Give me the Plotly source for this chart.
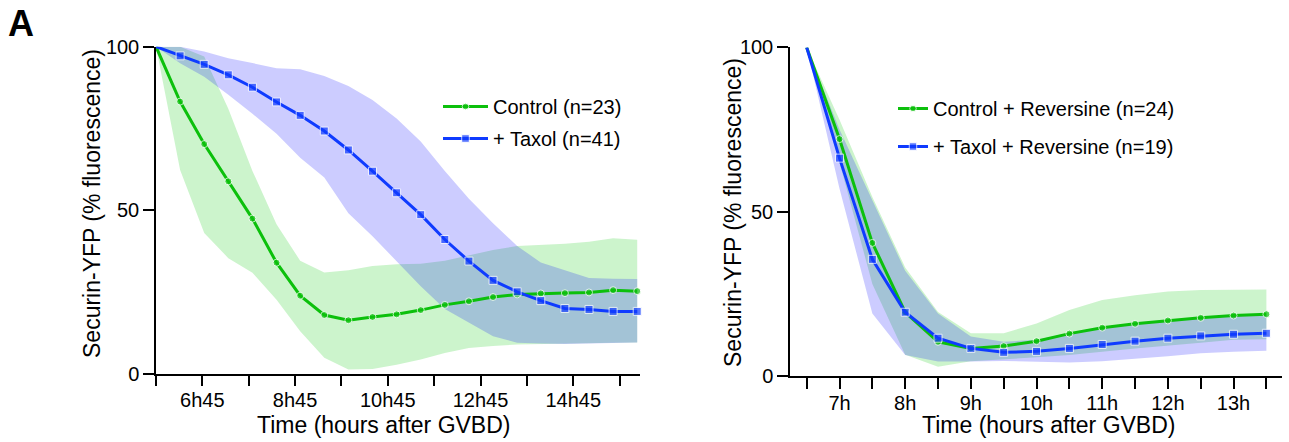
import plotly.graph_objects as go

# ---------------- data (left panel) ----------------
time_left = [5.75, 6.27, 6.79, 7.31, 7.83, 8.35, 8.86, 9.38, 9.90, 10.42, 10.94,
             11.46, 11.98, 12.50, 13.02, 13.54, 14.05, 14.57, 15.09, 15.61, 16.13]
ctrl_mean = [100, 83.2, 70.2, 58.8, 47.4, 33.9, 23.8, 17.9, 16.3, 17.3, 18.1,
             19.4, 21.0, 22.1, 23.4, 24.2, 24.5, 24.6, 24.8, 25.5, 25.2]
ctrl_upper = [100, 100, 97.0, 81.0, 62.0, 45.7, 34.5, 30.9, 31.6, 32.9, 33.4,
              33.6, 34.5, 36.2, 37.8, 39.0, 39.3, 39.7, 40.3, 41.4, 40.9]
ctrl_lower = [100, 62.3, 43.0, 35.3, 30.8, 22.6, 12.9, 4.8, 1.2, 1.4, 2.7,
              4.3, 6.3, 7.8, 8.4, 8.9, 9.1, 9.2, 9.3, 9.4, 9.5]
taxol_mean = [100, 97.2, 94.6, 91.4, 87.6, 83.1, 79.0, 74.2, 68.4, 61.9, 55.3,
              48.6, 41.0, 34.4, 28.5, 25.0, 22.3, 19.9, 19.6, 19.0, 19.0]
taxol_upper = [100, 100, 98.5, 96.5, 95.0, 93.4, 93.1, 91.0, 88.0, 83.7, 78.0,
               71.0, 62.0, 53.5, 46.0, 39.0, 34.0, 31.5, 29.2, 29.0, 28.9]
taxol_lower = [100, 94.9, 90.8, 85.3, 79.5, 73.4, 66.0, 60.0, 49.0, 42.0, 34.3,
               26.7, 19.7, 15.5, 11.4, 9.4, 9.2, 9.0, 9.1, 9.3, 9.5]
ticks_left = [5.75, 6.75, 7.75, 8.75, 9.75, 10.75, 11.75, 12.75, 13.75, 14.75, 15.75]
ticklabels_left = ["", "6h45", "", "8h45", "", "10h45", "", "12h45", "", "14h45", ""]

# ---------------- data (right panel) ----------------
time_right = [6.5, 7.0, 7.5, 8.0, 8.5, 9.0, 9.5, 10.0, 10.5, 11.0, 11.5, 12.0, 12.5, 13.0, 13.5]
ctrlrev_mean = [100, 72.1, 40.5, 19.4, 10.4, 8.4, 9.1, 10.6, 12.9, 14.7, 15.9, 16.9, 17.7, 18.4, 18.8]
ctrlrev_upper = [100, 78.0, 54.5, 33.0, 19.5, 13.0, 13.0, 16.0, 20.1, 23.1, 24.6, 25.7, 26.2, 26.2, 26.3]
ctrlrev_lower = [100, 65.0, 28.0, 6.5, 2.8, 4.5, 5.0, 5.7, 6.4, 7.4, 8.4, 9.3, 10.1, 11.0, 11.2]
taxrev_mean = [100, 66.3, 35.5, 19.4, 11.5, 8.4, 7.2, 7.5, 8.4, 9.6, 10.6, 11.5, 12.2, 12.7, 13.0]
taxrev_upper = [100, 75.0, 53.5, 32.0, 19.0, 12.0, 10.4, 11.0, 13.0, 14.8, 16.0, 17.0, 17.7, 18.4, 18.8]
taxrev_lower = [100, 57.0, 19.0, 6.4, 4.4, 4.4, 4.6, 4.4, 4.1, 4.5, 5.2, 6.0, 6.9, 7.4, 7.7]
ticks_right = [6.5, 7.0, 7.5, 8.0, 8.5, 9.0, 9.5, 10.0, 10.5, 11.0, 11.5, 12.0, 12.5, 13.0, 13.5]
ticklabels_right = ["", "7h", "", "8h", "", "9h", "", "10h", "", "11h", "", "12h", "", "13h", ""]
yticks = [0, 50, 100]

GREEN = "#0CC00C"
BLUE = "#0F3BFF"
GREEN_FILL = "rgba(0,200,0,0.2)"
BLUE_FILL = "rgba(0,0,255,0.2)"
FONT = "Liberation Sans, Arial, Helvetica, sans-serif"

fig = go.Figure()


def band(x, lo, hi, color, xa, ya):
    fig.add_trace(go.Scatter(
        x=list(x) + list(x)[::-1], y=list(hi) + list(lo)[::-1],
        fill="toself", fillcolor=color, line=dict(width=0), mode="lines",
        hoverinfo="skip", showlegend=False, xaxis=xa, yaxis=ya))


def mean_line(x, y, color, symbol, size, name, xa, ya, legend):
    sizes = [0] + [size] * (len(y) - 1)
    fig.add_trace(go.Scatter(
        x=x, y=y, mode="lines+markers", name=name,
        line=dict(color=color, width=3),
        marker=dict(color=color, symbol=symbol, size=sizes),
        cliponaxis=False, xaxis=xa, yaxis=ya, legend=legend, legendgroup=name))


# left panel
band(time_left, ctrl_lower, ctrl_upper, GREEN_FILL, "x", "y")
band(time_left, taxol_lower, taxol_upper, BLUE_FILL, "x", "y")
mean_line(time_left, ctrl_mean, GREEN, "circle", 7, "Control (n=23)", "x", "y", "legend")
mean_line(time_left, taxol_mean, BLUE, "square", 8, "+ Taxol (n=41)", "x", "y", "legend")

# right panel
band(time_right, ctrlrev_lower, ctrlrev_upper, GREEN_FILL, "x2", "y2")
band(time_right, taxrev_lower, taxrev_upper, BLUE_FILL, "x2", "y2")
mean_line(time_right, ctrlrev_mean, GREEN, "circle", 7, "Control + Reversine (n=24)", "x2", "y2", "legend2")
mean_line(time_right, taxrev_mean, BLUE, "square", 8, "+ Taxol + Reversine (n=19)", "x2", "y2", "legend2")

W, H = 1289, 442
axis_common = dict(showline=True, linecolor="black", linewidth=1.5, ticks="outside",
                   ticklen=11, tickwidth=1.5, tickcolor="black", showgrid=False,
                   zeroline=False, automargin=False,
                   tickfont=dict(family=FONT, size=20, color="black"))
x_common = dict(ticklabelstandoff=-3, **axis_common)
y_common = dict(tickvals=yticks, ticksuffix="\u2002", **axis_common)

fig.update_layout(
    width=W, height=H, margin=dict(l=0, r=0, t=0, b=0, pad=0), autosize=False,
    paper_bgcolor="white", plot_bgcolor="white",
    font=dict(family=FONT, color="black"),
    xaxis=dict(domain=[156 / W, 640 / W], range=[5.75, 16.19], anchor="y",
               tickvals=ticks_left, ticktext=ticklabels_left, **x_common),
    yaxis=dict(domain=[1 - 373.5 / H, 1 - 46.7 / H], range=[0, 100], anchor="x", **y_common),
    xaxis2=dict(domain=[790 / W, 1281.7 / W], range=[6.246, 13.733], anchor="y2",
                tickvals=ticks_right, ticktext=ticklabels_right, **x_common),
    yaxis2=dict(domain=[1 - 376 / H, 1 - 47.4 / H], range=[0, 100], anchor="x2", **y_common),
    legend=dict(x=438 / W, y=1 - 87 / H, xanchor="left", yanchor="top",
                bgcolor="rgba(0,0,0,0)", itemwidth=45, tracegroupgap=3,
                font=dict(family=FONT, size=20, color="black")),
    legend2=dict(x=893 / W, y=1 - 89 / H, xanchor="left", yanchor="top",
                 bgcolor="rgba(0,0,0,0)", tracegroupgap=9,
                 font=dict(family=FONT, size=20, color="black")),
    annotations=[
        dict(text="<b>A</b>", x=6 / W, y=1 - 23 / H, xref="paper", yref="paper",
             xanchor="left", yanchor="middle", showarrow=False,
             font=dict(family=FONT, size=36, color="black")),
        dict(text="Time (hours after GVBD)", x=383 / W, y=1 - 425 / H, xref="paper", yref="paper",
             xanchor="center", yanchor="middle", showarrow=False,
             font=dict(family=FONT, size=23, color="black")),
        dict(text="Time (hours after GVBD)", x=1048 / W, y=1 - 425 / H, xref="paper", yref="paper",
             xanchor="center", yanchor="middle", showarrow=False,
             font=dict(family=FONT, size=23, color="black")),
        dict(text="Securin-YFP (% fluorescence)", x=92 / W, y=1 - 204 / H, xref="paper", yref="paper",
             xanchor="center", yanchor="middle", textangle=-90, showarrow=False,
             font=dict(family=FONT, size=23, color="black")),
        dict(text="Securin-YFP (% fluorescence)", x=733 / W, y=1 - 213 / H, xref="paper", yref="paper",
             xanchor="center", yanchor="middle", textangle=-90, showarrow=False,
             font=dict(family=FONT, size=23, color="black")),
    ],
)

fig.write_html(
    "out.html",
    config={"responsive": False, "displayModeBar": False},
    post_script=(
        "document.documentElement.style.margin='0';"
        "document.body.style.margin='0';document.body.style.padding='0';"
        "document.documentElement.style.overflow='hidden';"
        "document.body.style.overflow='hidden';"
    ),
)
